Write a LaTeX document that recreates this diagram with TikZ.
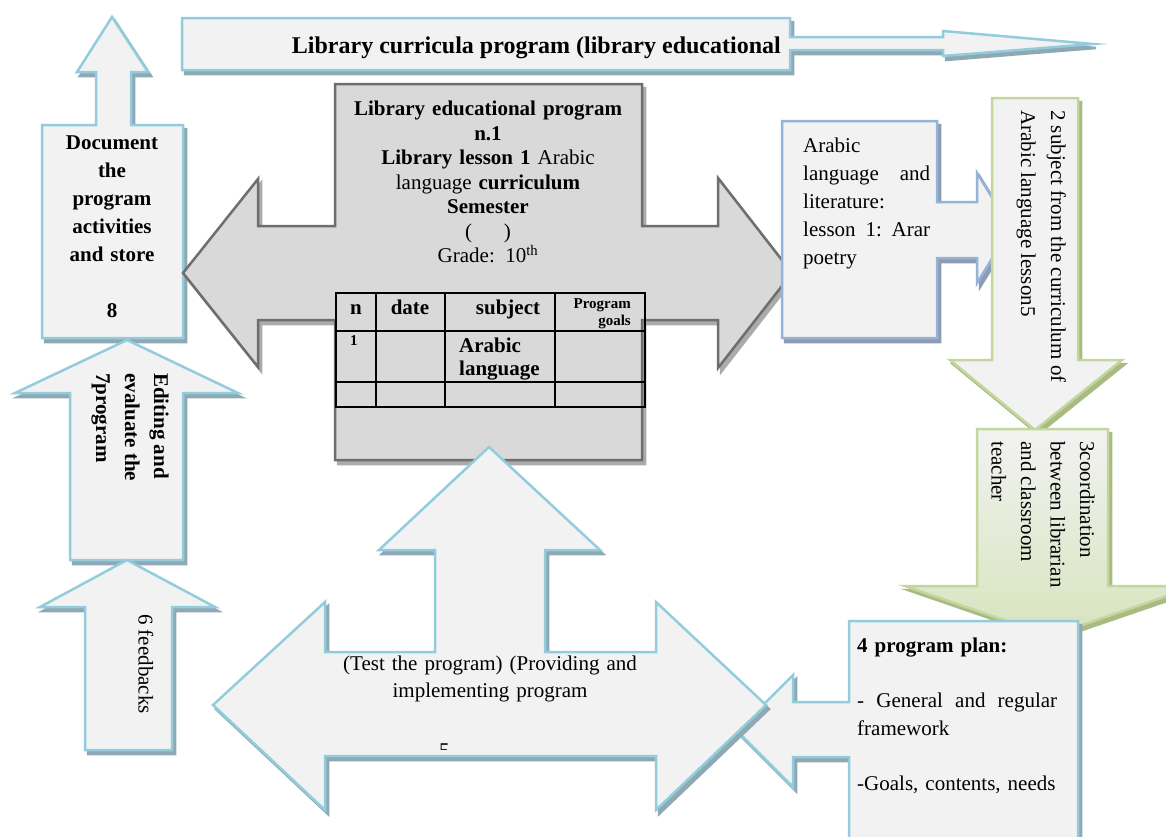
\documentclass[tikz,border=0pt]{standalone}
\usepackage{fontspec}
\setmainfont{Liberation Serif}
\definecolor{aqua}{HTML}{93CDDD}
\definecolor{boxfill}{HTML}{F2F2F2}
\definecolor{shblue}{HTML}{8FA9B4}
\definecolor{grayfill}{HTML}{D9D9D9}
\definecolor{grayline}{HTML}{6E6E6E}
\definecolor{grayshd}{HTML}{ABABAB}
\definecolor{steel}{HTML}{95B3D7}
\definecolor{steelshd}{HTML}{8C9CB3}
\definecolor{olive}{HTML}{C3D69B}
\definecolor{oliveshd}{HTML}{A9BB83}
\definecolor{lightgreen}{HTML}{D7E4BD}
\def\PthTop{(182,18) -- (790,18) -- (790,37) -- (943,37) -- (943,31) -- (1093,44) -- (943,56) -- (943,50) -- (790,50) -- (790,70) -- (182,70) -- cycle}
\def\PthEight{(112,17) -- (148,72) -- (131,72) -- (131,125) -- (183,125) -- (183,338) -- (42,338) -- (42,125) -- (96,125) -- (96,72) -- (77,72) -- cycle}
\def\PthSeven{(127,340) -- (238,393) -- (183,393) -- (183,560) -- (70,560) -- (70,393) -- (15,393) -- cycle}
\def\PthSix{(127,560) -- (215,607) -- (172,607) -- (172,750) -- (85,750) -- (85,607) -- (40,607) -- cycle}
\def\PthGray{(183,273) -- (258,179) -- (258,226) -- (335,226) -- (335,84) -- (642,84) -- (642,226) -- (718,226) -- (718,178) -- (792,273) -- (718,368) -- (718,320) -- (642,320) -- (642,460) -- (335,460) -- (335,320) -- (258,320) -- (258,367) -- cycle}
\def\PthArab{(782,121) -- (937,121) -- (937,202) -- (977,202) -- (977,173) -- (1011,228) -- (977,283) -- (977,258) -- (937,258) -- (937,338) -- (782,338) -- cycle}
\def\PthGreenA{(992,98) -- (1078,98) -- (1078,360) -- (1122,360) -- (1035,430) -- (950,360) -- (992,360) -- cycle}
\def\PthGreenB{(977,429) -- (1108,429) -- (1108,586) -- (1196,586) -- (1050,636) -- (905,586) -- (977,586) -- cycle}
\def\PthPlan{(849,621) -- (1078,621) -- (1078,850) -- (849,850) -- (849,757) -- (793,757) -- (793,787) -- (737,731) -- (793,675) -- (793,702) -- (849,702) -- cycle}
\def\PthImpl{(489,447) -- (600,550) -- (545,550) -- (545,652) -- (656,652) -- (656,602) -- (766,705) -- (656,810) -- (656,756) -- (325,756) -- (325,810) -- (213,705) -- (325,602) -- (325,652) -- (435,652) -- (435,550) -- (379,550) -- cycle}
\begin{document}
\begin{tikzpicture}[x=1pt,y=-1pt,
  blueshp/.style={fill=boxfill, draw=aqua, line width=2.5pt, line join=miter, miter limit=20},
  blueshd/.style={fill=shblue, draw=shblue, line width=2.5pt, shift={(3,4)}},
  grayshp/.style={fill=grayfill, draw=grayline, line width=2.5pt, line join=miter, miter limit=20},
  grayshdw/.style={fill=grayshd, draw=grayshd, line width=2.5pt, shift={(3,4)}},
  steelshp/.style={fill=boxfill, draw=steel, line width=2.5pt, line join=miter, miter limit=20},
  steelshdw/.style={fill=steelshd, draw=steelshd, line width=2.5pt, shift={(3,4)}},
  greenshp/.style={fill=boxfill, draw=olive, line width=2.5pt, line join=miter, miter limit=20},
  greenshdw/.style={fill=oliveshd, draw=oliveshd, line width=2.5pt, shift={(3,4)}},
  txt/.style={inner sep=0pt, font=\fontsize{21}{28}\selectfont},
  tbl/.style={draw=black, line width=2pt}]
\useasboundingbox (0,0) rectangle (1166,836);
\clip (0,0) rectangle (1166,836);
\fill[white] (0,0) rectangle (1166,836);
% top arrow
\path[blueshd] \PthTop;
\path[blueshp] \PthTop;
\node[txt, anchor=base east, font=\fontsize{24}{28}\selectfont\bfseries] (toptext) at (781,53) {Library curricula program (library educational};
% arrow 8
\path[blueshd] \PthEight;
\path[blueshp] \PthEight;
\node[txt, anchor=north, align=center, text width=138, font=\fontsize{21}{28}\selectfont\bfseries] (eight) at (112,136) {Document\\the\\program\\activities\\and store\\\mbox{}\\8};
% arrow 7
\path[blueshd] \PthSeven;
\path[blueshp] \PthSeven;
\node[txt, rotate=-90, anchor=north west, align=left, font=\fontsize{21}{29}\selectfont\bfseries] (seven) at (169,373) {Editing and\\evaluate the\\7program};
% arrow 6
\path[blueshd] \PthSix;
\path[blueshp] \PthSix;
\node[txt, rotate=-90] (six) at (146,664) {6 feedbacks};
% central gray shape
\path[grayshdw] \PthGray;
\path[grayshp] \PthGray;
\node[txt, anchor=north, align=center, text width=300, font=\fontsize{21}{24.5}\selectfont] (lep) at (488,101)
  {\textbf{Library educational program}\\\textbf{n.1}\\\textbf{Library lesson 1} Arabic\\language \textbf{curriculum}\\\textbf{Semester}\\(\hspace{32pt})\\Grade: 10\textsuperscript{th}};
% table
\draw[tbl] (336,293) rectangle (645,407);
\draw[tbl] (336,331) -- (645,331);
\draw[tbl] (336,382) -- (645,382);
\draw[tbl] (376,293) -- (376,407);
\draw[tbl] (445,293) -- (445,407);
\draw[tbl] (555,293) -- (555,407);
\node[txt, anchor=base, font=\fontsize{21}{24}\selectfont\bfseries] (cn) at (356,314) {n};
\node[txt, anchor=base, font=\fontsize{21}{24}\selectfont\bfseries] (cdate) at (410,314) {date};
\node[txt, anchor=base, font=\fontsize{21}{24}\selectfont\bfseries] (csubj) at (508,314) {subject};
\node[txt, anchor=base east, font=\fontsize{15}{17}\selectfont\bfseries] (cprog) at (631,308) {Program};
\node[txt, anchor=base east, font=\fontsize{15}{17}\selectfont\bfseries] (cgoals) at (631,325) {goals};
\node[txt, anchor=base west, font=\fontsize{15}{17}\selectfont\bfseries] (cone) at (350,345) {1};
\node[txt, anchor=base west, font=\fontsize{21}{24}\selectfont\bfseries] (carabic) at (459,352) {Arabic};
\node[txt, anchor=base west, font=\fontsize{21}{24}\selectfont\bfseries] (clang) at (459,375) {language};
% Arabic box
\path[steelshdw] \PthArab;
\path[steelshp] \PthArab;
\node[txt, anchor=north west, align=left, text width=127] (arab) at (803,138)
  {Arabic\\language\hfill and\\literature:\\lesson\hfill 1:\hfill Arar\\poetry};
% green arrow 2
\path[greenshdw] \PthGreenA;
\path[greenshp] \PthGreenA;
\node[txt, rotate=-90, anchor=north west, align=left, font=\fontsize{21}{30}\selectfont] (two) at (1066,110)
  {2 subject from the curriculum of\\Arabic language lesson5};
% green arrow 3
\path[greenshdw] \PthGreenB;
\path[draw=olive, line width=2.5pt, line join=miter, miter limit=20, top color=boxfill, bottom color=lightgreen] \PthGreenB;
\node[txt, rotate=-90, anchor=north west, align=left, font=\fontsize{21}{29.5}\selectfont] (three) at (1095,441)
  {3coordination\\between librarian\\and classroom\\teacher};
% plan box
\path[blueshd] \PthPlan;
\path[blueshp] \PthPlan;
\node[txt, anchor=north west, align=left, text width=200, font=\fontsize{21}{27.6}\selectfont] (plan) at (857,638)
  {\textbf{4 program plan:}\\\mbox{}\\-\hfill General\hfill and\hfill regular\\framework\\\mbox{}\\-Goals, contents, needs};
% implementing arrow
\path[blueshd] \PthImpl;
\path[blueshp] \PthImpl;
\node[txt, anchor=north, align=center, text width=330, font=\fontsize{21}{27}\selectfont] (impl) at (490,656)
  {(Test the program) (Providing and\\implementing program};
\begin{scope}
\clip (430,738) rectangle (460,749);
\node[txt, anchor=north west] (five) at (439,744) {5};
\end{scope}
\end{tikzpicture}
\end{document}
